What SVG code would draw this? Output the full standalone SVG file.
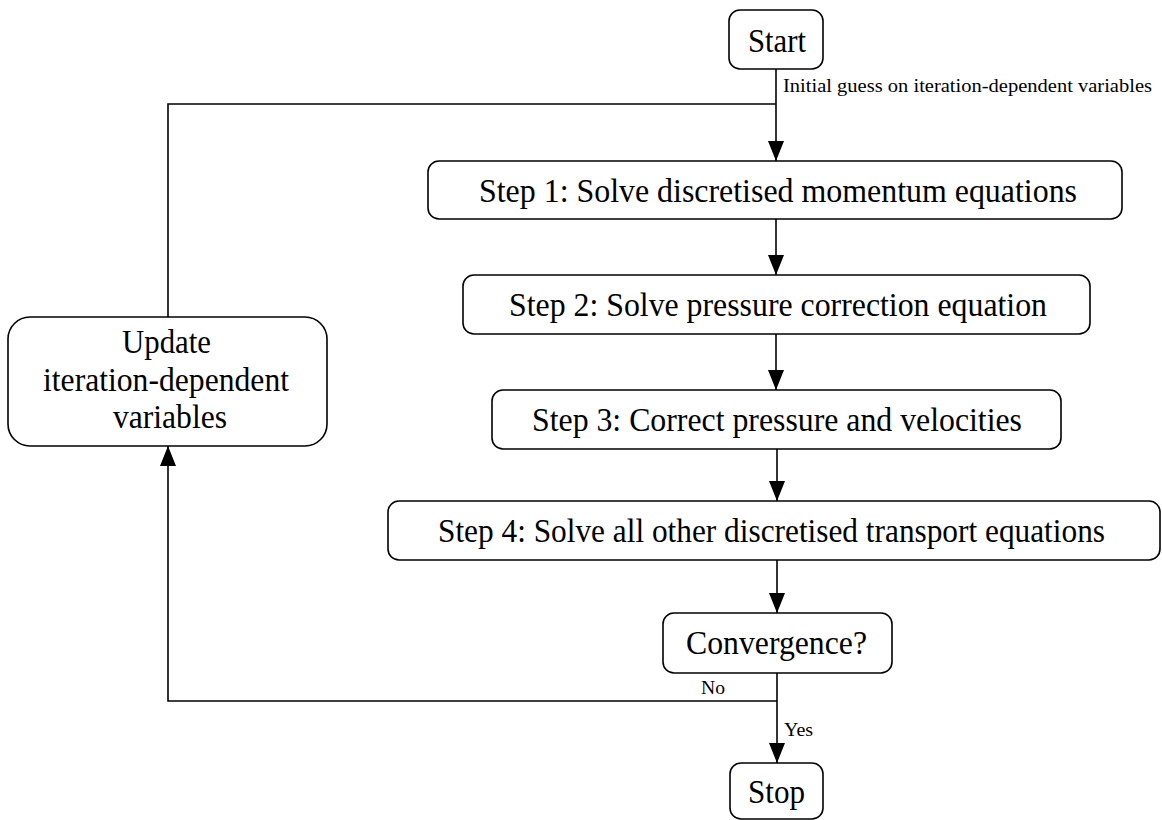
<svg xmlns="http://www.w3.org/2000/svg" width="1162" height="820" viewBox="0 0 1162 820">
<style>
.box{fill:#fff;stroke:#000;stroke-width:1.6}
.t{font-family:"Liberation Serif","Times New Roman",serif;font-size:33px;fill:#000;text-anchor:start}
.s{font-family:"Liberation Serif","Times New Roman",serif;font-size:19px;fill:#000}
.c{fill:none;stroke:#000;stroke-width:1.6}
</style>
<defs>
<marker id="ah" viewBox="0 0 20 16" refX="20" refY="8" markerWidth="20" markerHeight="16" markerUnits="userSpaceOnUse" orient="auto">
<path d="M0,0 L20,8 L0,16 z" fill="#000"/>
</marker>
</defs>
<g id="connectors">
<path class="c" d="M776,69 V161" marker-end="url(#ah)"/>
<path class="c" d="M168,317 V104 H776"/>
<path class="c" d="M776,219 V275" marker-end="url(#ah)"/>
<path class="c" d="M776,334 V390" marker-end="url(#ah)"/>
<path class="c" d="M777,449 V501" marker-end="url(#ah)"/>
<path class="c" d="M777,560 V613" marker-end="url(#ah)"/>
<path class="c" d="M777,673 V763" marker-end="url(#ah)"/>
<path class="c" d="M777,701 H168 V446" marker-end="url(#ah)"/>
<text class="s" x="783" y="92" textLength="369" lengthAdjust="spacingAndGlyphs">Initial guess on iteration-dependent variables</text>
<text class="s" x="701" y="694" textLength="24" lengthAdjust="spacingAndGlyphs">No</text>
<text class="s" x="784" y="736" textLength="29" lengthAdjust="spacingAndGlyphs">Yes</text>
</g>
<g id="start">
<rect class="box" x="729" y="10" width="94" height="59" rx="11"/>
<text class="t" x="748" y="52" textLength="58" lengthAdjust="spacingAndGlyphs">Start</text>
</g>
<g id="step1">
<rect class="box" x="428" y="161" width="694" height="58" rx="11"/>
<text class="t" x="479" y="202" textLength="598" lengthAdjust="spacingAndGlyphs">Step 1: Solve discretised momentum equations</text>
</g>
<g id="step2">
<rect class="box" x="463" y="275" width="627" height="59" rx="11"/>
<text class="t" x="509" y="316" textLength="538" lengthAdjust="spacingAndGlyphs">Step 2: Solve pressure correction equation</text>
</g>
<g id="step3">
<rect class="box" x="492" y="390" width="569" height="59" rx="11"/>
<text class="t" x="532" y="431" textLength="490" lengthAdjust="spacingAndGlyphs">Step 3: Correct pressure and velocities</text>
</g>
<g id="step4">
<rect class="box" x="388" y="501" width="772" height="59" rx="11"/>
<text class="t" x="438" y="542" textLength="667" lengthAdjust="spacingAndGlyphs">Step 4: Solve all other discretised transport equations</text>
</g>
<g id="convergence">
<rect class="box" x="663" y="613" width="229" height="60" rx="11"/>
<text class="t" x="686" y="654" textLength="181" lengthAdjust="spacingAndGlyphs">Convergence?</text>
</g>
<g id="stop">
<rect class="box" x="730" y="763" width="93" height="56" rx="11"/>
<text class="t" x="748" y="803" textLength="57" lengthAdjust="spacingAndGlyphs">Stop</text>
</g>
<g id="update">
<rect class="box" x="8" y="317" width="319" height="129" rx="22"/>
<text class="t" x="122" y="353" textLength="89" lengthAdjust="spacingAndGlyphs">Update</text>
<text class="t" x="43" y="391" textLength="246" lengthAdjust="spacingAndGlyphs">iteration-dependent</text>
<text class="t" x="113" y="428" textLength="114" lengthAdjust="spacingAndGlyphs">variables</text>
</g>
</svg>
